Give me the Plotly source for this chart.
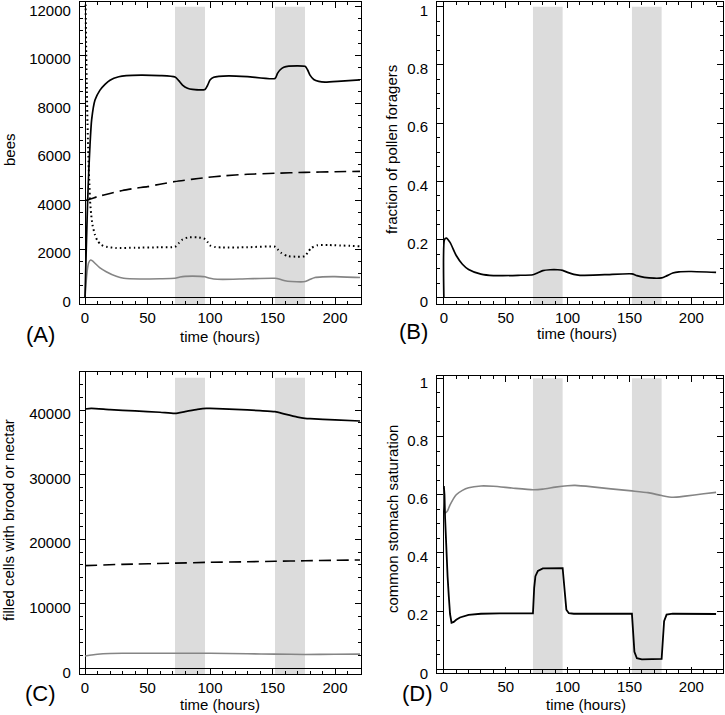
import plotly.graph_objects as go

W, H = 725, 715
FONT = "Liberation Sans, Arial, Helvetica, sans-serif"

# ---------------- data ----------------
# Panel A (bees)
a_solid_t = [0, 1, 2, 3, 4, 5.3, 8, 12, 16, 20, 27, 33, 45, 60, 72, 75, 78, 82, 86, 96, 98, 100, 103, 107, 115, 130, 152, 154, 156, 159, 163, 176, 178, 180, 183, 187, 192, 205, 220]
a_solid_v = [0, 2000, 3800, 5200, 6300, 7330, 8150, 8560, 8800, 8970, 9110, 9160, 9180, 9160, 9100, 8950, 8770, 8640, 8590, 8590, 8750, 8975, 9090, 9130, 9150, 9120, 9040, 9250, 9390, 9500, 9550, 9540, 9400, 9180, 9000, 8920, 8890, 8930, 8980]
a_dash_t = [0, 5, 10, 20, 30, 40, 50, 60, 72, 85, 96, 110, 130, 152, 176, 200, 220]
a_dash_v = [4000, 4080, 4170, 4300, 4420, 4510, 4580, 4680, 4790, 4880, 4950, 5020, 5090, 5130, 5170, 5195, 5210]
a_dot_t = [0, 0.5, 1, 1.5, 2, 2.5, 3, 3.5, 4, 5, 6, 8, 10, 13, 17, 25, 40, 60, 72, 75, 78, 82, 90, 96, 98, 100, 104, 110, 130, 152, 154, 157, 162, 170, 176, 178, 181, 186, 195, 220]
a_dot_v = [14000, 12000, 10000, 8500, 7200, 6200, 5300, 4700, 4030, 3400, 3000, 2590, 2350, 2175, 2100, 2050, 2060, 2080, 2100, 2250, 2400, 2480, 2490, 2420, 2300, 2160, 2090, 2070, 2080, 2100, 2000, 1850, 1720, 1690, 1710, 1850, 2050, 2160, 2170, 2120]
a_gray_t = [0, 1, 2, 3, 4.5, 6, 8, 12, 17, 25, 31, 44, 60, 72, 76, 80, 86, 92, 96, 99, 103, 110, 130, 152, 156, 160, 165, 176, 179, 184, 190, 200, 220]
a_gray_v = [0, 700, 1200, 1450, 1555, 1520, 1420, 1230, 1070, 880, 800, 770, 780, 800, 850, 880, 890, 880, 860, 810, 770, 755, 780, 800, 760, 700, 670, 665, 730, 830, 860, 870, 830]

# Panel B (fraction of pollen foragers)
b_t = [0, 0.5, 2, 5, 10, 15, 20, 30, 40, 60, 72, 76, 80, 86, 92, 96, 100, 105, 110, 130, 152, 156, 162, 170, 176, 180, 185, 190, 200, 220]
b_v = [0, 0.200, 0.205, 0.19, 0.145, 0.115, 0.097, 0.081, 0.076, 0.077, 0.079, 0.086, 0.093, 0.096, 0.096, 0.094, 0.087, 0.080, 0.077, 0.079, 0.082, 0.076, 0.070, 0.067, 0.068, 0.075, 0.085, 0.089, 0.090, 0.087]

# Panel C (filled cells)
c_solid_t = [0, 5, 20, 40, 60, 72, 80, 90, 97, 100, 120, 140, 152, 160, 170, 176, 180, 200, 220]
c_solid_v = [40150, 40250, 40050, 39850, 39650, 39480, 39750, 40100, 40260, 40260, 40100, 39900, 39740, 39350, 38900, 38710, 38650, 38480, 38300]
c_dash_t = [0, 30, 72, 96, 130, 152, 176, 200, 220]
c_dash_v = [15900, 16100, 16280, 16400, 16500, 16570, 16650, 16720, 16780]
c_gray_t = [0, 5, 10, 20, 30, 72, 100, 130, 152, 176, 200, 220]
c_gray_v = [1900, 2050, 2180, 2300, 2340, 2330, 2320, 2250, 2200, 2140, 2170, 2200]

# Panel D (common stomach saturation)
d_gray_t = [0, 1, 3, 5, 10, 15, 20, 30, 40, 55, 72, 80, 90, 100, 106, 120, 135, 152, 165, 176, 185, 195, 210, 220]
d_gray_v = [0.62, 0.537, 0.545, 0.565, 0.60, 0.615, 0.624, 0.63, 0.629, 0.623, 0.617, 0.619, 0.626, 0.631, 0.632, 0.627, 0.62, 0.613, 0.607, 0.597, 0.591, 0.595, 0.603, 0.608]
d_black_t = [0, 0.5, 1, 2, 3, 4, 5, 6.2, 8, 10, 13, 20, 30, 45, 72, 73, 74, 76, 80, 96, 97, 98, 99, 101, 105, 152, 153, 154, 156, 160, 176, 177, 178, 180, 185, 220]
d_black_v = [0.63, 0.60, 0.52, 0.40, 0.32, 0.25, 0.19, 0.16, 0.163, 0.17, 0.178, 0.187, 0.191, 0.192, 0.192, 0.28, 0.32, 0.338, 0.347, 0.348, 0.29, 0.23, 0.205, 0.193, 0.191, 0.191, 0.11, 0.06, 0.038, 0.034, 0.036, 0.11, 0.165, 0.188, 0.191, 0.19]

# shaded periods (hours)
bands = [(72, 96), (152, 176)]

x_ticks = [0, 50, 100, 150, 200]

# ---------------- layout geometry (pixels) ----------------
panels = {
    "A": dict(x=(80, 361), y=(2, 304), xr=(-4, 220.8), yr=(-260, 12194), dy=2000, mdy=500, btop=12000),
    "B": dict(x=(437.3, 723), y=(2, 304), xr=(-5.3, 225.6), yr=(-0.0216, 1.016), dy=0.2, mdy=0.05, btop=1),
    "C": dict(x=(80, 361), y=(372.3, 674.3), xr=(-4, 220.8), yr=(-929, 45838), dy=10000, mdy=2000, btop=45000),
    "D": dict(x=(437.3, 723), y=(375.7, 673.3), xr=(-5.3, 225.6), yr=(-0.0137, 1.0089), dy=0.2, mdy=0.05, btop=1),
}
names = ["A", "B", "C", "D"]

fig = go.Figure()
BLACK = "black"
GRAY = "#858585"
BAND = "#dcdcdc"

def add(panel_idx, t, v, color, dash="solid", width=1.6, shape="spline"):
    sfx = "" if panel_idx == 0 else str(panel_idx + 1)
    fig.add_trace(go.Scatter(
        x=t, y=v, mode="lines", xaxis="x" + sfx, yaxis="y" + sfx,
        line=dict(color=color, width=width, dash=dash, shape=shape, smoothing=0.6),
        showlegend=False, hoverinfo="skip"))

add(0, a_dash_t, a_dash_v, BLACK, dash="12px,6px", width=1.6)
add(0, a_dot_t, a_dot_v, BLACK, dash="1.6px,3px", width=2)
add(0, a_gray_t, a_gray_v, GRAY, width=1.6)
add(0, a_solid_t, a_solid_v, BLACK, width=1.7)
add(1, b_t, b_v, BLACK, width=1.7)
add(2, c_dash_t, c_dash_v, BLACK, dash="12px,6px", width=1.6)
add(2, c_gray_t, c_gray_v, GRAY, width=1.6)
add(2, c_solid_t, c_solid_v, BLACK, width=1.7)
add(3, d_gray_t, d_gray_v, GRAY, width=1.6)
add(3, d_black_t, d_black_v, BLACK, width=1.8, shape="linear")

layout = dict(
    template="none",
    width=W, height=H, margin=dict(l=0, r=0, t=0, b=0, pad=0, autoexpand=False),
    paper_bgcolor="white", plot_bgcolor="white",
    font=dict(family=FONT, size=15, color="black"),
    showlegend=False,
)
shapes = []
annotations = []

for i, n in enumerate(names):
    p = panels[n]
    sfx = "" if i == 0 else str(i + 1)
    xd = [p["x"][0] / W, p["x"][1] / W]
    yd = [1 - p["y"][1] / H, 1 - p["y"][0] / H]
    common = dict(
        showline=True, linecolor="black", linewidth=1.2, mirror="allticks",
        ticks="inside", ticklen=6, tickwidth=1, tickcolor="black",
        showgrid=False, zeroline=True, zerolinecolor="black", zerolinewidth=1.2,
        tickfont=dict(family=FONT, size=15, color="black"), automargin=False,
        ticklabeloverflow="allow",
    )
    layout["xaxis" + sfx] = dict(
        common, domain=xd, range=list(p["xr"]), tickvals=x_ticks,
        ticktext=[str(v) for v in x_ticks],
        minor=dict(ticks="inside", ticklen=3, dtick=10, tick0=0, tickcolor="black", showgrid=False),
        anchor="y" + sfx, ticklabelstandoff=0,
    )
    yt = []
    v = 0.0
    while v <= p["yr"][1] + 1e-9:
        yt.append(round(v, 6))
        v += p["dy"]
    layout["yaxis" + sfx] = dict(
        common, domain=yd, range=list(p["yr"]), tickvals=yt,
        ticktext=[("%g" % t) for t in yt],
        minor=dict(ticks="inside", ticklen=3, dtick=p["mdy"], tick0=0, tickcolor="black", showgrid=False),
        anchor="x" + sfx, ticklabelstandoff=5, ticklabelshift=4,
    )
    for (b0, b1) in bands:
        shapes.append(dict(type="rect", xref="x" + sfx, yref="y" + sfx,
                           x0=b0, x1=b1, y0=p["yr"][0], y1=p["btop"],
                           fillcolor=BAND, line=dict(width=0), layer="below"))

def ann(text, px, py, size=15, angle=0):
    annotations.append(dict(text=text, x=px / W, y=1 - py / H, xref="paper", yref="paper",
                            showarrow=False, textangle=angle, xanchor="center", yanchor="middle",
                            font=dict(family=FONT, size=size, color="black")))

ann("time (hours)", 220, 336)
ann("time (hours)", 577, 333)
ann("time (hours)", 220, 704)
ann("time (hours)", 586, 704)
ann("bees", 9, 150, angle=-90)
ann("fraction of pollen foragers", 391, 150, angle=-90)
ann("filled cells with brood or nectar", 8, 520, angle=-90)
ann("common stomach saturation", 392, 519, angle=-90)
ann("(A)", 40, 334, size=22)
ann("(B)", 413, 331, size=22)
ann("(C)", 40, 693, size=22)
ann("(D)", 417, 693, size=22)

layout["shapes"] = shapes
layout["annotations"] = annotations
fig.update_layout(**layout)
fig.write_html("out.html", config={"displayModeBar": False},
               post_script="document.body.style.margin='0';document.body.style.padding='0';document.body.style.overflow='hidden';")
